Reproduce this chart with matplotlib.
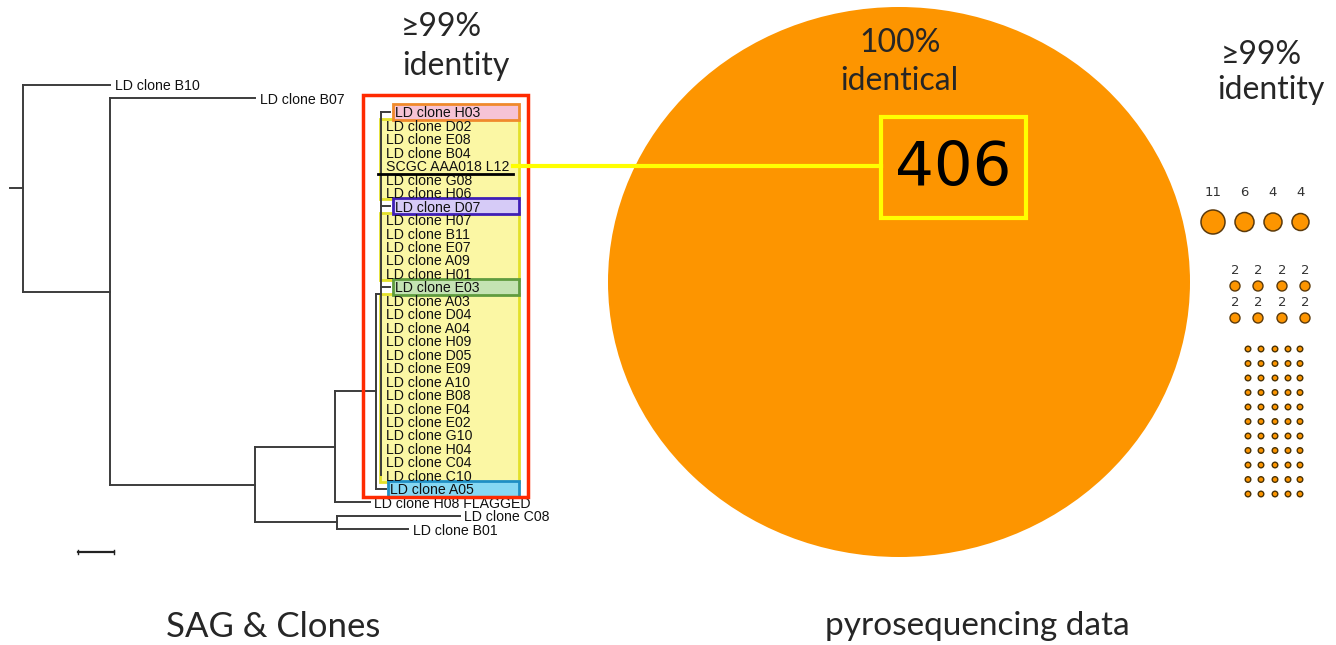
import matplotlib
matplotlib.use("Agg")
import matplotlib.pyplot as plt
from matplotlib.patches import Rectangle, Circle, Ellipse

# ---- tree data (depth in substitutions/site, leaves listed top to bottom) ----
leaf_names = [
    "LD clone B10", "LD clone B07", "LD clone H03",
    "LD clone D02", "LD clone E08", "LD clone B04", "SCGC AAA018 L12",
    "LD clone G08", "LD clone H06", "LD clone D07",
    "LD clone H07", "LD clone B11", "LD clone E07", "LD clone A09", "LD clone H01",
    "LD clone E03",
    "LD clone A03", "LD clone D04", "LD clone A04", "LD clone H09", "LD clone D05",
    "LD clone E09", "LD clone A10", "LD clone B08", "LD clone F04", "LD clone E02",
    "LD clone G10", "LD clone H04", "LD clone C04", "LD clone C10",
    "LD clone A05", "LD clone H08 FLAGGED", "LD clone C08", "LD clone B01",
]
leaf_depth = [
    0.0278, 0.0681, 0.1056,
    0.1031, 0.1031, 0.1031, 0.1031, 0.1031, 0.1031, 0.1056,
    0.1031, 0.1031, 0.1031, 0.1031, 0.1031,
    0.1056,
    0.1031, 0.1031, 0.1031, 0.1031, 0.1031, 0.1031, 0.1031,
    0.1031, 0.1031, 0.1031, 0.1031, 0.1031, 0.1031, 0.1031,
    0.1044, 0.1000, 0.1250, 0.1106,
]
# internal nodes: depth and children (ints are leaf rows)
node_depth = {"root": 0.0036, "N2": 0.0278, "N3": 0.0681, "N4": 0.0903,
              "N5": 0.0908, "N6": 0.1017, "N7": 0.1031}
node_children = {
    "root": [0, "N2"],
    "N2": [1, "N3"],
    "N3": ["N4", "N5"],
    "N4": ["N6", 31],
    "N5": [32, 33],
    "N6": ["N7", 30],
    "N7": list(range(2, 30)),
}
scale_bar = 0.01

# highlighted leaves / groups (rows)
single_boxes = [(2, "#f6c3d5", "#f08a2c"), (9, "#d6cbf7", "#3f1fb5"),
                (15, "#c4e3b3", "#5f9c3f"), (30, "#86d8f3", "#1f8fc4")]
yellow_groups = [(3, 8), (10, 14), (16, 29)]
linked_leaf = 6

# ---- pyrosequencing cluster sizes ----
main_cluster = 406
top_counts = [11, 6, 4, 4]
pair_counts = [2, 2, 2, 2, 2, 2, 2, 2]
single_counts = [1] * 55

ORANGE = "#fd9500"
EDGE = "#5b3a0c"

fig = plt.figure(figsize=(13.36, 6.45), dpi=100)

# pixel overlay axes
ov = fig.add_axes([0, 0, 1, 1])
ov.set_xlim(0, 1336)
ov.set_ylim(645, 0)
ov.axis("off")

# tree axes: depth -> x, row -> y
PX_PER_UNIT = 3600.0
X0 = 10.0
ROW0, ROWH = 85.0, 13.46
tr = fig.add_axes([0, 0, 1, 1])
tr.set_xlim(-X0 / PX_PER_UNIT, (1336 - X0) / PX_PER_UNIT)
tr.set_ylim((645 - ROW0) / ROWH, -ROW0 / ROWH)
tr.axis("off")
tr.patch.set_alpha(0)


def d(px):
    return (px - X0) / PX_PER_UNIT


# highlight boxes under the labels
for a, b in yellow_groups:
    tr.add_patch(Rectangle((d(380), a - 0.5), d(519) - d(380), b - a + 1.0,
                           facecolor="#fbf7a4", edgecolor="#e3e02a", lw=2, zorder=1))
for row, fc, ec in single_boxes:
    x_left = 388 if row == 30 else 393
    tr.add_patch(Rectangle((d(x_left), row - 0.58), d(519) - d(x_left), 1.16,
                           facecolor=fc, edgecolor=ec, lw=2, zorder=2))

# tree layout
node_y = {}


def get_y(c):
    if isinstance(c, int):
        return float(c)
    if c not in node_y:
        ys = [get_y(k) for k in node_children[c]]
        node_y[c] = (min(ys) + max(ys)) / 2
    return node_y[c]


def get_depth(c):
    return leaf_depth[c] if isinstance(c, int) else node_depth[c]


TREE_C = "#3c3c3c"
for name, kids in node_children.items():
    x = node_depth[name]
    ys = [get_y(k) for k in kids]
    tr.plot([x, x], [min(ys), max(ys)], color=TREE_C, lw=1.4, zorder=3)
    for k, yk in zip(kids, ys):
        tr.plot([x, get_depth(k)], [yk, yk], color=TREE_C, lw=1.4, zorder=3)
tr.plot([0, node_depth["root"]], [get_y("root")] * 2, color=TREE_C, lw=1.4)

for i, name in enumerate(leaf_names):
    tr.annotate(name, (leaf_depth[i], i), xytext=(3.2, 0), textcoords="offset points",
                va="center_baseline", ha="left", fontsize=10.2, family="Liberation Sans",
                color="#111111", zorder=4)

# underline of SCGC leaf and link to the 406 cluster
tr.plot([d(378), d(513)], [linked_leaf + 0.6] * 2, color="black", lw=2, zorder=5)
tr.plot([d(513), d(881)], [linked_leaf, linked_leaf], color="#ffff00", lw=3, zorder=6)

# red box around >=99% group
tr.add_patch(Rectangle((d(363), 0.74), d(528) - d(363), 29.9, fill=False,
                       edgecolor="#ff2a00", lw=2.5, zorder=5))

# scale bar
sb_y = 34.7
tr.plot([d(78), d(78) + scale_bar], [sb_y, sb_y], color="#222222", lw=1.6)
for xx in (d(78), d(78) + scale_bar):
    tr.plot([xx, xx], [sb_y - 0.15, sb_y + 0.15], color="#222222", lw=1)

# ---- right side: clusters ----
ov.add_patch(Ellipse((899, 282), 582, 550, facecolor=ORANGE, edgecolor="none", zorder=1))
ov.add_patch(Rectangle((881, 117), 145, 101, fill=False, edgecolor="#ffff00", lw=3, zorder=3))
ov.text(953, 168, str(main_cluster), ha="center", va="center", fontsize=44,
        family="DejaVu Sans", color="black", zorder=4)

top_r = [12, 9.5, 9, 8.5]
x_edge = 1201
for n, r in zip(top_counts, top_r):
    cx = x_edge + r
    ov.add_patch(Circle((cx, 222), r, facecolor=ORANGE, edgecolor=EDGE, lw=1.1))
    ov.text(cx, 192, str(n), ha="center", va="center", fontsize=9.5, color="#333333")
    x_edge = cx + r + 10

pair_x = [1235, 1258, 1282, 1305]
for k, n in enumerate(pair_counts):
    cx = pair_x[k % 4]
    cy = 286 + 32 * (k // 4)
    ov.add_patch(Circle((cx, cy), 5, facecolor=ORANGE, edgecolor=EDGE, lw=1))
    ov.text(cx, cy - 16, str(n), ha="center", va="center", fontsize=9.5, color="#333333")

single_x = [1248, 1261, 1275, 1288, 1300]
for k, n in enumerate(single_counts):
    cx = single_x[k % 5]
    cy = 349 + 14.5 * (k // 5)
    ov.add_patch(Circle((cx, cy), 2.8, facecolor=ORANGE, edgecolor="#4a3205", lw=1.0))

# ---- text ----
tf = ["Lato", "DejaVu Sans"]
tc = "#262626"
kw = dict(ha="center", va="center", family=tf, color=tc, zorder=4)
ov.text(441, 27, "\u226599%", fontsize=23, **kw)
ov.text(456, 66, "identity", fontsize=23, **kw)
ov.text(900, 43, "100%", fontsize=23, **kw)
ov.text(899, 81, "identical", fontsize=23, **kw)
ov.text(1261, 55, "\u226599%", fontsize=23, **kw)
ov.text(1271, 90, "identity", fontsize=23, **kw)
ov.text(273, 627, "SAG & Clones", fontsize=25, **kw)
ov.text(977, 626, "pyrosequencing data", fontsize=24, **kw)

fig.savefig("out.png", dpi=100)
